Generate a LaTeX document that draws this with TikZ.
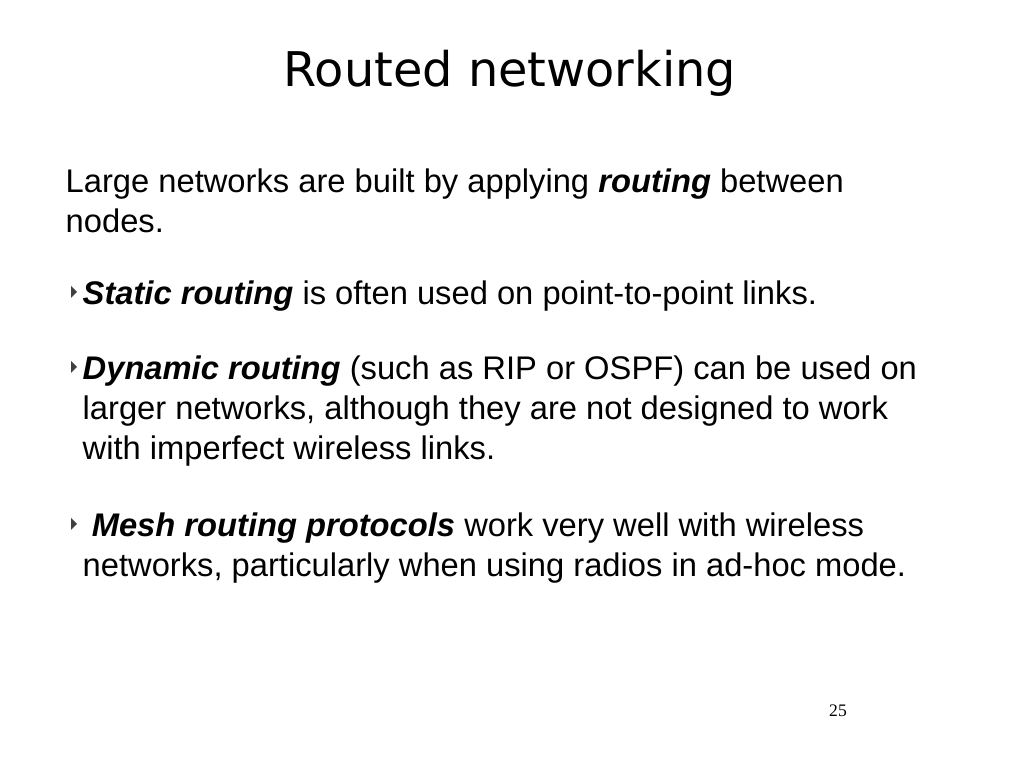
\documentclass[tikz,border=0pt]{standalone}
\usepackage{fontspec}
\setmainfont{Liberation Sans}
\newfontfamily\titlefont{DejaVu Sans}
\newfontfamily\numfont{Liberation Serif}
\begin{document}
\begin{tikzpicture}[x=0.01cm,y=-0.01cm,
  body/.style={anchor=base west,inner sep=0pt,font=\fontsize{9.3pt}{11pt}\selectfont},
  bul/.style={fill=black!75}]
\useasboundingbox (0,0) rectangle (1024,768);
\node[anchor=base,inner sep=0pt,font=\titlefont\fontsize{13.6pt}{16pt}\selectfont] (title) at (510,87) {Routed networking};
\node[body] (l1) at (65,193) {Large networks are built by applying \textbf{\textit{routing}} between};
\node[body] (l2) at (65,233) {nodes.};
\node[body] (s1) at (82,305) {\textbf{\textit{Static routing}} is often used on point-to-point links.};
\node[body] (d1) at (82,380) {\textbf{\textit{Dynamic routing}} (such as RIP or OSPF) can be used on};
\node[body] (d2) at (82,420) {larger networks, although they are not designed to work};
\node[body] (d3) at (82,460) {with imperfect wireless links.};
\node[body] (m1) at (82,537) {\ \textbf{\textit{Mesh routing protocols}} work very well with wireless};
\node[body] (m2) at (82,577) {networks, particularly when using radios in ad-hoc mode.};
\foreach \y in {305,380,537}{
  \fill[bul] (71,\y-19) -- (77,\y-13) -- (71,\y-7) -- cycle;}
\node[anchor=base,inner sep=0pt,font=\numfont\fontsize{5pt}{6pt}\selectfont] (pg) at (838,717) {25};
\end{tikzpicture}
\end{document}
